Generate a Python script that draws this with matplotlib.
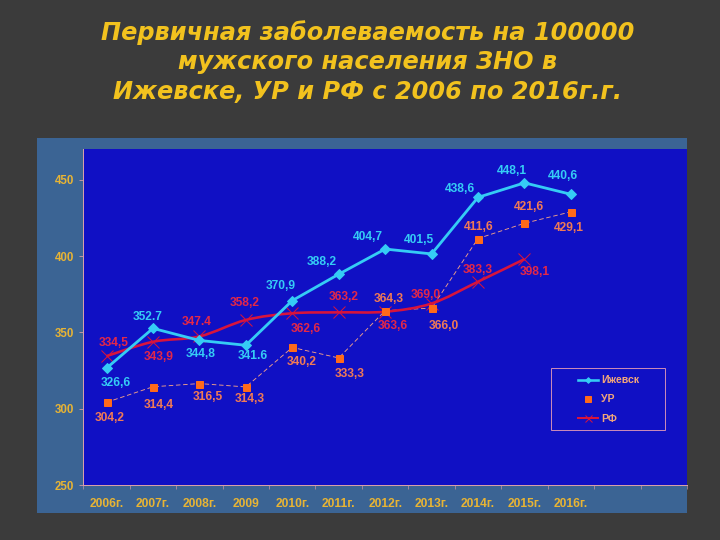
import matplotlib
matplotlib.use("Agg")
import matplotlib.pyplot as plt
from matplotlib.patches import Rectangle
from matplotlib.path import Path
from matplotlib.patches import PathPatch
from matplotlib.lines import Line2D

# ---------------- data ----------------
years = ["2006г.", "2007г.", "2008г.", "2009", "2010г.", "2011г.",
         "2012г.", "2013г.", "2014г.", "2015г.", "2016г."]
izhevsk = [326.6, 352.7, 344.8, 341.6, 370.9, 388.2, 404.7, 401.5, 438.6, 448.1, 440.6]
ur = [304.2, 314.4, 316.5, 314.3, 340.2, 333.3, 364.3, 366.0, 411.6, 421.6, 429.1]
rf = [334.5, 343.9, 347.4, 358.2, 362.6, 363.2, 363.6, 369.0, 383.3, 398.1]
series_names = ["Ижевск", "УР", "РФ"]
title = "Первичная заболеваемость на 100000\nмужского населения ЗНО в\nИжевске, УР и РФ с 2006 по 2016г.г."
yticks = [250, 300, 350, 400, 450]

# labels that use a dot as decimal separator in the original
dot_labels = {"Ижевск": [1, 3], "УР": [], "РФ": [2]}

# ---------------- styles ----------------
C_IZH = "#35CCF5"
C_UR = "#FF6A1A"
C_UR_LINE = "#F0A088"
C_UR_LAB = "#F07A55"
C_RF = "#D8143C"
C_RF_LAB = "#E42848"
C_GOLD = "#E8B434"
C_SPINE = "#D8A0A8"

# label offsets in points (dx, dy)
off_izh = [(9, -15), (-5, 11), (1, -14), (7, -11), (-12, 15), (-17, 12),
           (-17, 12), (-13, 14), (-18, 8), (-13, 12), (-8, 18)]
off_ur = [(3, -16), (6, -18), (8, -13), (4, -12), (9, -15), (11, -16),
          (4, 12), (12, -18), (1, 12), (4, 16), (-2, -16)]
off_rf = [(7, 13), (6, -15), (-3, 14), (-1, 17), (13, -16), (5, 15),
          (8, -14), (-6, 9), (0, 12), (10, -13)]

plt.rcParams['font.family'] = ['Liberation Sans', 'DejaVu Sans']

fig = plt.figure(figsize=(10, 7.5), dpi=72, facecolor="#3B3B3B")

# chart panel
fig.patches.append(Rectangle((37 / 720, 1 - 513 / 540), 650 / 720, 375 / 540,
                             transform=fig.transFigure, facecolor="#3B6494",
                             edgecolor="none", zorder=0))

ax = fig.add_axes([83.3 / 720, 1 - 485 / 540, 603.7 / 720, 336 / 540])
ax.set_zorder(2)
ax.set_facecolor("#1010C4")
ax.set_xlim(-0.5, 12.5)
ax.set_ylim(250, 470.3)

x_izh = list(range(len(izhevsk)))
x_ur = list(range(len(ur)))
x_rf = list(range(len(rf)))

# Ижевск
ax.plot(x_izh, izhevsk, color=C_IZH, lw=2.8, marker="D", ms=7.5,
        mfc=C_IZH, mec=C_IZH, zorder=4)
# УР
ax.plot(x_ur, ur, color=C_UR_LINE, lw=0.9, ls=(0, (5, 3)), zorder=3)
ax.plot(x_ur, ur, ls="none", marker="s", ms=7, mfc=C_UR, mec=C_UR, zorder=5)

# РФ smoothed line (Catmull-Rom as cubic Bezier through data points)
pts = list(zip(x_rf, rf))
verts = [pts[0]]
codes = [Path.MOVETO]
n = len(pts)
for i in range(n - 1):
    p0 = pts[i - 1] if i > 0 else pts[i]
    p1 = pts[i]
    p2 = pts[i + 1]
    p3 = pts[i + 2] if i + 2 < n else pts[i + 1]
    c1 = (p1[0] + (p2[0] - p0[0]) / 6, p1[1] + (p2[1] - p0[1]) / 6)
    c2 = (p2[0] - (p3[0] - p1[0]) / 6, p2[1] - (p3[1] - p1[1]) / 6)
    verts += [c1, c2, p2]
    codes += [Path.CURVE4] * 3
ax.add_patch(PathPatch(Path(verts, codes), facecolor="none", edgecolor=C_RF,
                       lw=2.6, zorder=3.5))
ax.plot(x_rf, rf, ls="none", marker="x", ms=12, mew=1.0, color=C_RF, zorder=3.6)


def fmt(v, dot):
    s = f"{v:.1f}"
    return s if dot else s.replace(".", ",")


def labels(xs, vals, offs, color, name):
    for i, (x, v) in enumerate(zip(xs, vals)):
        ax.annotate(fmt(v, i in dot_labels[name]), (x, v), xytext=offs[i],
                    textcoords="offset points", ha="center", va="center",
                    color=color, fontsize=12, fontweight="bold", zorder=6)


labels(x_izh, izhevsk, off_izh, C_IZH, "Ижевск")
labels(x_ur, ur, off_ur, C_UR_LAB, "УР")
labels(x_rf, rf, off_rf, C_RF_LAB, "РФ")

# axes styling
for s in ["top", "right"]:
    ax.spines[s].set_visible(False)
for s in ["left", "bottom"]:
    ax.spines[s].set_color(C_SPINE)
    ax.spines[s].set_linewidth(1.0)

ax.set_yticks(yticks)
ax.set_yticklabels([str(t) for t in yticks])
ax.tick_params(axis="y", length=4, color=C_SPINE, labelcolor=C_GOLD,
               labelsize=11.5, pad=5)
for t in ax.get_yticklabels():
    t.set_fontweight("bold")

ax.set_xticks(range(len(years)))
ax.set_xticklabels(years)
ax.set_xticks([k + 0.5 for k in range(-1, 13)], minor=True)
ax.tick_params(axis="x", which="major", length=0, labelcolor=C_GOLD,
               labelsize=12, pad=13)
ax.tick_params(axis="x", which="minor", length=4, color=C_SPINE)
for t in ax.get_xticklabels():
    t.set_fontweight("bold")

# legend
handles = [
    Line2D([], [], color=C_IZH, lw=2.6, marker="D", ms=4, mfc=C_IZH, mec=C_IZH),
    Line2D([], [], ls="none", marker="s", ms=6, mfc=C_UR, mec=C_UR),
    Line2D([], [], color=C_RF, lw=2.0, marker="x", ms=7, mew=1.0),
]
leg = ax.legend(handles, series_names, loc="center left",
                bbox_to_anchor=(0.8195, 0.2545), frameon=False,
                fontsize=10.5, handlelength=1.9, handletextpad=0.3,
                labelspacing=0.87, borderpad=0, borderaxespad=0)
for t in leg.get_texts():
    t.set_color("#F2A67A")
    t.set_fontweight("bold")
ax.add_patch(Rectangle((0.775, 0.164), 0.189, 0.184, transform=ax.transAxes,
                       facecolor="none", edgecolor="#C888B8", lw=1.0, zorder=7))

# title
fig.text(0.51, 1 - 62 / 540, title, ha="center", va="center",
         color="#F2C21E", fontsize=24, fontweight="bold", fontstyle="italic",
         family=["DejaVu Sans"], linespacing=1.28)

fig.savefig("out.png", dpi=72, facecolor=fig.get_facecolor())
